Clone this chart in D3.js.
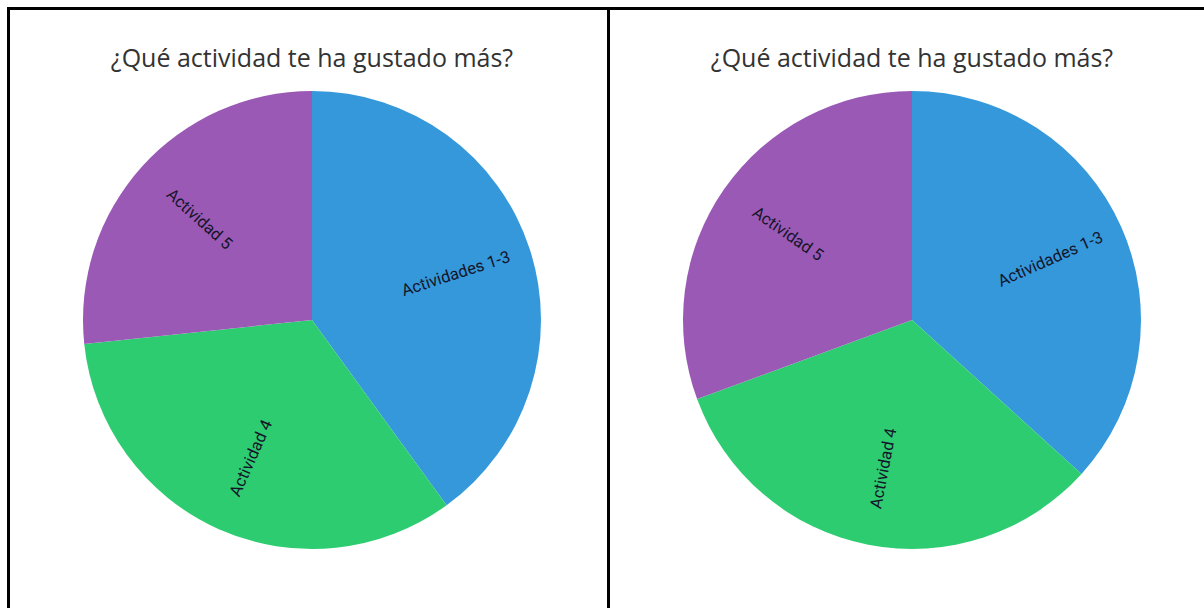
<!DOCTYPE html>
<html>
<head>
<meta charset="utf-8">
<script src="https://cdn.jsdelivr.net/npm/d3@7"></script>
<style>
  html, body { margin: 0; padding: 0; background: #fff; }
</style>
</head>
<body>
<div id="chart"></div>
<script>
const title = '¿Qué actividad te ha gustado más?'
const categories = ['Actividades 1-3', 'Actividad 4', 'Actividad 5']
const votesLeft = [6, 5, 4]
const votesRight = [18, 16, 15]
const sliceColors = ['#3498db', '#2ecc71', '#9b59b6']

const width = 1204
const height = 608

const svg = d3.select('#chart')
  .append('svg')
  .attr('width', width)
  .attr('height', height)

// marco negro (sin borde derecho ni inferior en la captura)
const frame = svg.append('g').attr('fill', '#000')
frame.append('rect').attr('x', 7).attr('y', 7).attr('width', width - 7).attr('height', 3)
frame.append('rect').attr('x', 7).attr('y', 7).attr('width', 3).attr('height', height - 7)
frame.append('rect').attr('x', 607).attr('y', 7).attr('width', 3).attr('height', height - 7)

const color = d3.scaleOrdinal().domain(categories).range(sliceColors)
const radius = 229

function drawPie (cx, values) {
  const g = svg.append('g').attr('transform', `translate(${cx}, 0)`)

  g.append('text')
    .attr('x', 0)
    .attr('y', 67)
    .attr('text-anchor', 'middle')
    .style('font-family', '"Open Sans", "Noto Sans", sans-serif')
    .style('font-size', '25px')
    .style('fill', '#333')
    .text(title)

  const data = categories.map((c, i) => ({ name: c, value: values[i] }))
  const pie = d3.pie().sort(null).value(d => d.value)
  const arc = d3.arc().innerRadius(0).outerRadius(radius)
  const labelArc = d3.arc().innerRadius(radius * 0.66).outerRadius(radius * 0.66)

  const slices = g.append('g').attr('transform', 'translate(0, 320)')
  const arcs = pie(data)

  slices.selectAll('path')
    .data(arcs)
    .enter()
    .append('path')
    .attr('d', arc)
    .attr('fill', d => color(d.data.name))

  slices.selectAll('text')
    .data(arcs)
    .enter()
    .append('text')
    .attr('transform', d => {
      const [x, y] = labelArc.centroid(d)
      let a = (d.startAngle + d.endAngle) / 2 * 180 / Math.PI - 90
      if (a > 90) a -= 180 // que no quede al revés
      return `translate(${x}, ${y}) rotate(${a})`
    })
    .attr('text-anchor', 'middle')
    .attr('dy', '0.35em')
    .style('font-family', '"Liberation Sans Narrow", "Roboto", sans-serif')
    .style('font-size', '16.5px')
    .style('fill', '#15152a')
    .text(d => d.data.name)
}

drawPie(312, votesLeft)
drawPie(912, votesRight)
</script>
</body>
</html>
